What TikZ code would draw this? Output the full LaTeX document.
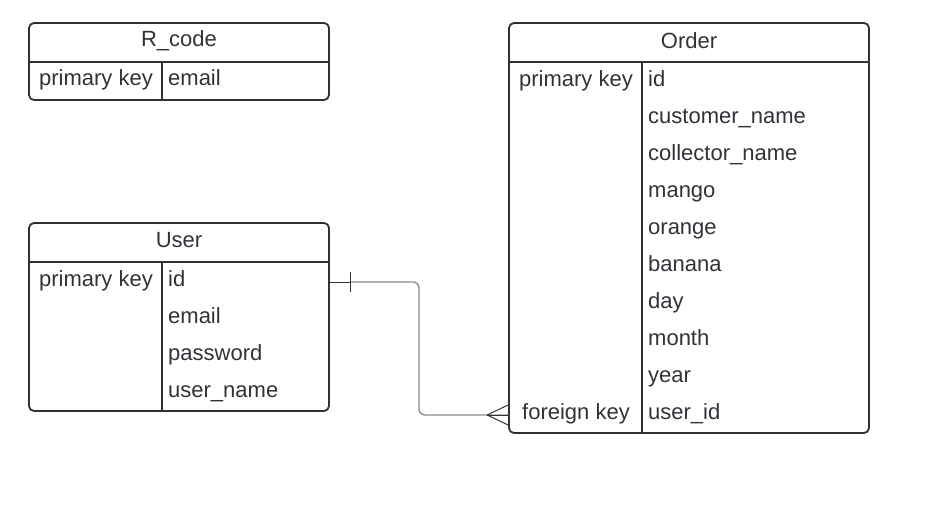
\documentclass[tikz,border=0pt]{standalone}
\usepackage{fontspec}
\setmainfont{Liberation Sans}
\usetikzlibrary{positioning}
\definecolor{ink}{HTML}{2F3338}
\definecolor{wire}{HTML}{8C8C8C}
\newcommand{\erfont}{\fontsize{22}{26}\selectfont}
\begin{document}
\begin{tikzpicture}[x=1pt, y=-1pt, line join=round,
    tbl/.style = {draw=ink, line width=1.8pt, rounded corners=5pt, inner sep=0pt},
    sep/.style = {draw=ink, line width=1.8pt},
    head/.style = {text=ink, font=\erfont, inner sep=0pt},
    key/.style = {text=ink, font=\erfont, inner sep=0pt, text height=16pt, text depth=5pt},
    field/.style = {key, anchor=west},
    conn/.style = {draw=wire, line width=1.4pt, rounded corners=6pt},
    foot/.style = {draw=ink, line width=1pt}]
    \useasboundingbox (0,0) rectangle (929,530);

    % tables
    \node[tbl, minimum width=300pt, minimum height=77pt] (rcode) at (179,61.5) {};
    \node[tbl, minimum width=300pt, minimum height=188pt] (user) at (179,317) {};
    \node[tbl, minimum width=360pt, minimum height=410pt] (order) at (689,228) {};

    \draw[sep] (29,62) -- (329,62);
    \draw[sep] (162,62) -- (162,100);
    \draw[sep] (29,262) -- (329,262);
    \draw[sep] (162,262) -- (162,411);
    \draw[sep] (509,62) -- (869,62);
    \draw[sep] (642,62) -- (642,433);

    % R_code
    \node[head] (rcodeT) at (179,41) {R\_code};
    \node[key] (rcodeK) at (96,80) {primary key};
    \node[field] (rmail) at (168,80) {email};

    % User
    \node[head] (userT) at (179,240) {User};
    \node[key] (userK) at (96,280.5) {primary key};
    \node[field] (uid) at (168,280.5) {id};
    \node[field] (umail) at (168,317.5) {email};
    \node[field] (upass) at (168,354.5) {password};
    \node[field] (uname) at (168,391.5) {user\_name};

    % Order
    \node[head] (orderT) at (689,41) {Order};
    \node[key] (orderK) at (576,80.5) {primary key};
    \node[field] (oid) at (648,80.5) {id};
    \node[field] (ocust) at (648,117.5) {customer\_name};
    \node[field] (ocoll) at (648,154.5) {collector\_name};
    \node[field] (omango) at (648,191.5) {mango};
    \node[field] (orange) at (648,228.5) {orange};
    \node[field] (obanana) at (648,265.5) {banana};
    \node[field] (oday) at (648,302.5) {day};
    \node[field] (omonth) at (648,339.5) {month};
    \node[field] (oyear) at (648,376.5) {year};
    \node[key] (orderF) at (576,413.5) {foreign key};
    \node[field] (ouser) at (648,413.5) {user\_id};

    % relation user -> order
    \coordinate (one) at ([yshift=-1.5pt]user.east |- uid);
    \coordinate (many) at ([yshift=-1.5pt]order.west |- ouser);
    \coordinate (bend) at (419,340);
    \draw[foot] (one) -- ([xshift=21pt]one);
    \draw[conn] ([xshift=21pt]one) -| (bend) |- (many);
    \draw[foot] ([xshift=21pt,yshift=10pt]one) -- ([xshift=21pt,yshift=-10pt]one);
    \draw[foot] ([yshift=10pt]many) -- ([xshift=-21pt]many) -- ([yshift=-10pt]many);
    \draw[foot] ([xshift=-21pt]many) -- (many);
\end{tikzpicture}
\end{document}
